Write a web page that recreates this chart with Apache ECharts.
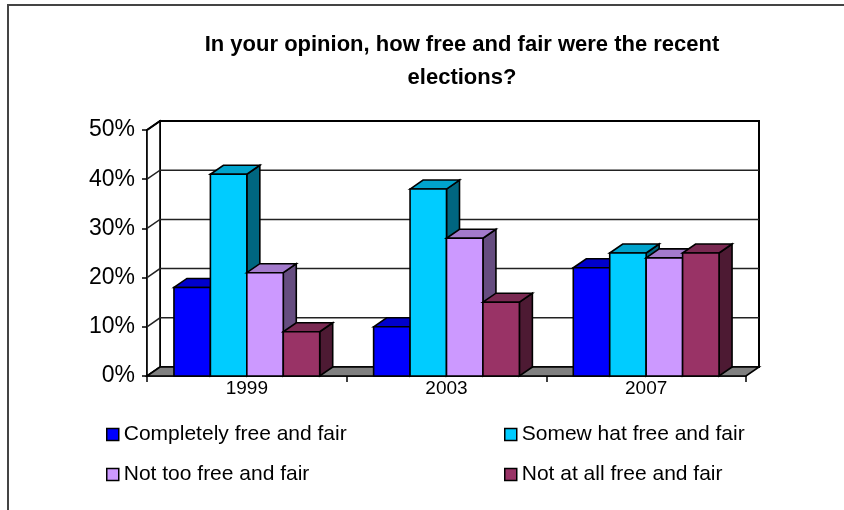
<!DOCTYPE html>
<html>
<head>
<meta charset="utf-8">
<script src="https://cdn.jsdelivr.net/npm/echarts@6/dist/echarts.min.js"></script>
<style>html,body{margin:0;padding:0;background:#fff;}#c{width:844px;height:510px;}</style>
</head>
<body>
<div id="c"></div>
<script>
const categories = ['1999', '2003', '2007'];
const seriesNames = ['Completely free and fair', 'Somew hat free and fair', 'Not too free and fair', 'Not at all free and fair'];
const completelyFree = [18, 10, 22];
const somewhatFree = [41, 38, 25];
const notTooFree = [21, 28, 24];
const notAtAllFree = [9, 15, 25];
const yTicks = [0, 10, 20, 30, 40, 50];

const FONT = '"Liberation Sans", Arial, sans-serif';
const DX = 13, DY = -9;          // 3D depth offset (px)
const GAP = 0.27;                // category gap fraction
const LW = 1.6;
const palettes = [
  { front: '#0000FF', top: '#0000CC', side: '#000080' },
  { front: '#00CCFF', top: '#00A3CC', side: '#006680' },
  { front: '#CC99FF', top: '#A37ACC', side: '#664D80' },
  { front: '#993366', top: '#7A2952', side: '#4D1A33' }
];
const allValues = [completelyFree, somewhatFree, notTooFree, notAtAllFree];

function barRender(sIdx) {
  const p = palettes[sIdx];
  return function (params, api) {
    const c = api.value(0), v = api.value(1);
    const top = api.coord([c, v]);
    const base = api.coord([c, 0]);
    const cw = api.size([1, 0])[0];
    const groupW = cw * (1 - GAP);
    const bw = groupW / 4;
    const x0 = top[0] - groupW / 2 + sIdx * bw;
    const x1 = x0 + bw;
    const yt = top[1], yb = base[1];
    const st = { stroke: '#000', lineWidth: LW, lineJoin: 'miter' };
    return {
      type: 'group',
      children: [
        { type: 'polygon', shape: { points: [[x1, yt], [x1 + DX, yt + DY], [x1 + DX, yb + DY], [x1, yb]] }, style: Object.assign({ fill: p.side }, st) },
        { type: 'polygon', shape: { points: [[x0, yt], [x0 + DX, yt + DY], [x1 + DX, yt + DY], [x1, yt]] }, style: Object.assign({ fill: p.top }, st) },
        { type: 'rect', shape: { x: x0, y: yt, width: bw, height: yb - yt }, style: Object.assign({ fill: p.front }, st) }
      ]
    };
  };
}

function frameRender(params, api) {
  const cs = params.coordSys;
  const xl = cs.x, xr = cs.x + cs.width;
  const y0 = api.coord([0, yTicks[0]])[1];
  const yMax = api.coord([0, yTicks[yTicks.length - 1]])[1];
  const children = [];
  children.push({ type: 'rect', shape: { x: xl + DX, y: yMax + DY, width: xr - xl, height: y0 - yMax }, style: { fill: '#fff', stroke: '#000', lineWidth: 2 } });
  children.push({ type: 'polygon', shape: { points: [[xl, y0], [xl, yMax], [xl + DX, yMax + DY], [xl + DX, y0 + DY]] }, style: { fill: '#fff', stroke: '#000', lineWidth: 1.6 } });
  yTicks.forEach(function (t) {
    const y = api.coord([0, t])[1];
    const last = t === yTicks[yTicks.length - 1];
    children.push({ type: 'polyline', shape: { points: [[xl, y], [xl + DX, y + DY], [xr + DX, y + DY]] }, style: { stroke: last ? '#000' : '#222', lineWidth: last ? 2 : 1.5, fill: null } });
  });
  children.push({ type: 'polygon', shape: { points: [[xl, y0], [xr, y0], [xr + DX, y0 + DY], [xl + DX, y0 + DY]] }, style: { fill: '#808080', stroke: '#000', lineWidth: 1.6 } });
  return { type: 'group', children: children };
}

const series = [{
  type: 'custom',
  name: 'frame',
  renderItem: frameRender,
  data: [[0, 0]],
  encode: { x: 0, y: 1 },
  silent: true,
  z: 1
}];
allValues.forEach(function (vals, i) {
  series.push({
    type: 'custom',
    name: seriesNames[i],
    renderItem: barRender(i),
    itemStyle: { color: palettes[i].front },
    data: vals.map(function (v, k) { return [k, v]; }),
    encode: { x: 0, y: 1 },
    z: 2 + i
  });
});

const legendText = { fontFamily: FONT, fontSize: 21, color: '#000', lineHeight: 20 };
const chart = echarts.init(document.getElementById('c'), null, { renderer: 'canvas' });
chart.setOption({
  animation: false,
  backgroundColor: '#fff',
  title: {
    text: 'In your opinion, how free and fair were the recent\nelections?',
    left: 457,
    top: 23,
    textAlign: 'center',
    textStyle: { fontFamily: FONT, fontSize: 22, fontWeight: 'bold', color: '#000', lineHeight: 33 }
  },
  grid: { left: 147, right: 98, top: 130, bottom: 134 },
  xAxis: {
    type: 'category',
    data: categories,
    axisLine: { show: true, lineStyle: { color: '#000', width: 1.6 } },
    axisTick: { show: true, length: 6, lineStyle: { color: '#000', width: 1.5 } },
    axisLabel: { fontFamily: FONT, fontSize: 19, color: '#000', margin: 3 },
    splitLine: { show: false }
  },
  yAxis: {
    type: 'value',
    min: 0,
    max: 50,
    interval: 10,
    axisLine: { show: true, lineStyle: { color: '#000', width: 1.6 } },
    axisTick: { show: true, length: 5, lineStyle: { color: '#000', width: 1.5 } },
    axisLabel: { fontFamily: FONT, fontSize: 23, color: '#000', margin: 12, formatter: '{value}%' },
    splitLine: { show: false }
  },
  legend: [
    {
      orient: 'vertical', left: 101, top: 419, itemGap: 19, itemWidth: 12, itemHeight: 12, icon: 'rect',
      data: [seriesNames[0], seriesNames[2]],
      itemStyle: { borderColor: '#000', borderWidth: 1.5 },
      textStyle: legendText
    },
    {
      orient: 'vertical', left: 499, top: 419, itemGap: 19, itemWidth: 12, itemHeight: 12, icon: 'rect',
      data: [seriesNames[1], seriesNames[3]],
      itemStyle: { borderColor: '#000', borderWidth: 1.5 },
      textStyle: legendText
    }
  ],
  graphic: [{
    type: 'rect', silent: true, z: 100,
    shape: { x: 8, y: 5, width: 900, height: 600 },
    style: { fill: null, stroke: '#444', lineWidth: 2 }
  }],
  series: series
});
</script>
</body>
</html>
